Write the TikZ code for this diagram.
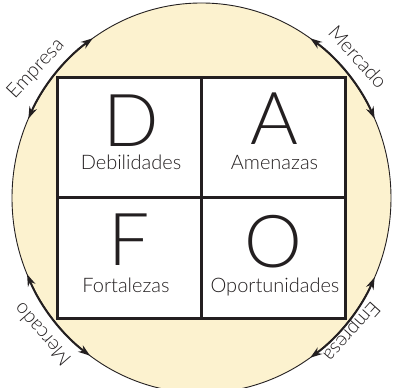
\documentclass[tikz,border=0pt]{standalone}
\usepackage{fontspec}
\IfFontExistsTF{Lato Light}{\setmainfont{Lato Light}}{\setmainfont{Lato}}
\usetikzlibrary{arrows.meta}
\definecolor{cream}{RGB}{252,242,207}
\definecolor{ink}{RGB}{35,31,32}
\tikzset{
  quad/.style={draw=ink,line width=3pt,fill=white,minimum width=144pt,minimum height=120.4pt,inner sep=0pt,outer sep=0pt},
  bigletter/.style={anchor=base,inner sep=0pt,text=ink,font=\fontsize{73}{73}\selectfont},
  quadlabel/.style={anchor=base,inner sep=0pt,text=ink,font=\fontsize{20}{20}\selectfont},
  arclabel/.style={inner sep=0pt,text=ink,font=\fontsize{20}{20}\selectfont},
  arcarrow/.style={draw=ink,line width=2pt,{Stealth[length=12pt,width=8pt]}-{Stealth[length=12pt,width=8pt]}},
}
\begin{document}
\begin{tikzpicture}[x=1pt,y=1pt]
\useasboundingbox (0,0) rectangle (400,388);
\coordinate (c) at (201.5,190);
\fill[cream] (c) ellipse [x radius=189.5, y radius=195];
\draw[ink,line width=0.9pt] (c) ellipse [x radius=189.5, y radius=195];
% arcs with arrows
\draw[arcarrow] ([shift={(125:189.5 and 195)}]c) arc[start angle=125,end angle=156,x radius=189.5,y radius=195];
\draw[arcarrow] ([shift={(24:189.5 and 195)}]c) arc[start angle=24,end angle=55,x radius=189.5,y radius=195];
\draw[arcarrow] ([shift={(203:189.5 and 195)}]c) arc[start angle=203,end angle=234,x radius=189.5,y radius=195];
\draw[arcarrow] ([shift={(-24:189.5 and 195)}]c) arc[start angle=-24,end angle=-55,x radius=189.5,y radius=195];
% arc labels
\node[arclabel,rotate=47] (e1) at (36,319) {Empresa};
\node[arclabel,rotate=-48] (m1) at (358,331) {Mercado};
\node[arclabel,rotate=131] (m2) at (42,53) {Mercado};
\node[arclabel,rotate=-132] (e2) at (351,57) {Empresa};
% quadrants
\node[quad] (qd) at (129.5,250.5) {};
\node[quad] (qa) at (273.7,250.5) {};
\node[quad] (qf) at (129.5,130.1) {};
\node[quad] (qo) at (273.7,130.1) {};
\node[bigletter] (ld) at (131,241) {D};
\node[quadlabel] (td) at (131,218) {Debilidades};
\node[bigletter] (la) at (274,243) {A};
\node[quadlabel] (ta) at (274.5,218) {Amenazas};
\node[bigletter] (lf) at (129.5,122) {F};
\node[quadlabel] (tf) at (126,95) {Fortalezas};
\node[bigletter] (lo) at (273.7,120) {O};
\node[quadlabel] (to) at (275,95) {Oportunidades};
\end{tikzpicture}
\end{document}
